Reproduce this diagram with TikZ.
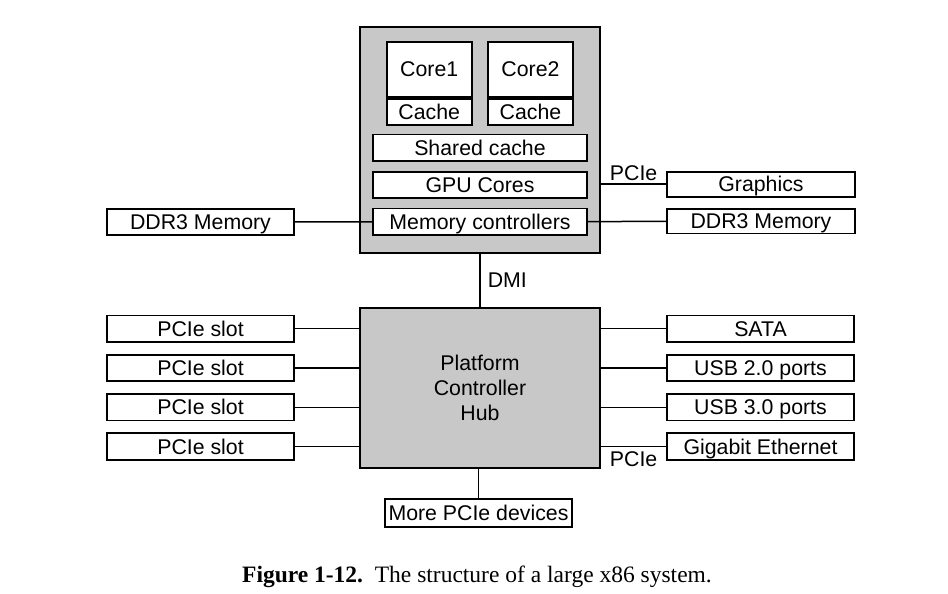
\documentclass[tikz,border=0pt]{standalone}
\usepackage{fontspec}
\setmainfont{Liberation Sans}
\newfontfamily\capfont{Liberation Serif}
\usepackage{xcolor}
\usepackage{tikz}
\usetikzlibrary{positioning}
\definecolor{chipgray}{RGB}{200,200,200}

\begin{document}
\begin{tikzpicture}[x=1pt,y=-1pt,inner sep=0pt,node distance=12.8pt,
  font=\fontsize{21.3}{25}\selectfont,
  box/.style={draw,fill=white,line width=1.8pt,minimum height=26.5pt,text height=15.3pt,text depth=0.5pt},
  wide/.style={box,minimum width=187pt},
  chip/.style={draw,fill=chipgray,line width=2.4pt,minimum width=240pt},
  link/.style={line width=1.5pt}]
\useasboundingbox (0,0) rectangle (948,594);

\node[chip,minimum height=226pt] (cpu) at (480,140) {};
\node[box,minimum width=85pt,minimum height=55.6pt] (core1) at (429.2,69.5) {Core1};
\node[box,minimum width=85pt,minimum height=26pt] (cache1) [below=0pt of core1] {Cache};
\node[box,minimum width=85.6pt,minimum height=55.6pt] (core2) at (530.5,69.5) {Core2};
\node[box,minimum width=85.6pt,minimum height=26pt] (cache2) [below=0pt of core2] {Cache};
\node[box,minimum width=214.6pt] (shared) at (480,147.7) {Shared cache};
\node[box,minimum width=214.6pt] (gpu) at (480,185) {GPU Cores};
\node[box,minimum width=214.6pt] (memctl) at (480,221.7) {Memory controllers};

\node[wide] (ddrL) at (200.5,222) {DDR3 Memory};
\node[wide,minimum width=188pt,minimum height=25pt] (graphics) at (761,184.2) {Graphics};
\node[wide,minimum width=188pt,minimum height=24.5pt] (ddrR) at (761,221.3) {DDR3 Memory};

\node[chip,minimum height=160pt,align=center] (pch) at (480,388) {Platform\\Controller\\Hub};

\node[wide] (slot1) at (200.5,328.7) {PCIe slot};
\node[wide] (slot2) [below of=slot1,node distance=39.3pt] {PCIe slot};
\node[wide] (slot3) [below of=slot2,node distance=39.3pt] {PCIe slot};
\node[wide] (slot4) [below of=slot3,node distance=39.3pt] {PCIe slot};

\node[wide] (sata) at (760.5,328.7) {SATA};
\node[wide] (usb2) [below of=sata,node distance=39.3pt] {USB 2.0 ports};
\node[wide] (usb3) [below of=usb2,node distance=39.3pt] {USB 3.0 ports};
\node[wide] (gbe) [below of=usb3,node distance=39.3pt] {Gigabit Ethernet};

\node[wide,minimum height=27.5pt] (more) at (478.5,513) {More PCIe devices};

\path (memctl) edge[link] (ddrL);
\path (memctl) edge[link] (ddrR);
\path (graphics) edge[link] node[above=3pt] {PCIe} (graphics -| cpu.east);
\path (cpu) edge[link] node[right=7pt] {DMI} (pch);
\path (slot1) edge[link] (slot1 -| pch.west);
\path (slot2) edge[link] (slot2 -| pch.west);
\path (slot3) edge[link] (slot3 -| pch.west);
\path (slot4) edge[link] (slot4 -| pch.west);
\path (sata) edge[link] (sata -| pch.east);
\path (usb2) edge[link] (usb2 -| pch.east);
\path (usb3) edge[link] (usb3 -| pch.east);
\path (gbe) edge[link] node[below=4pt] {PCIe} (gbe -| pch.east);
\path (more) edge[link] (more |- pch.south);

\node (caption) at (477,577) {\capfont\fontsize{23.5}{28}\selectfont\textbf{Figure 1-12.}\hspace{0.5em}The structure of a large x86 system.};
\end{tikzpicture}
\end{document}
